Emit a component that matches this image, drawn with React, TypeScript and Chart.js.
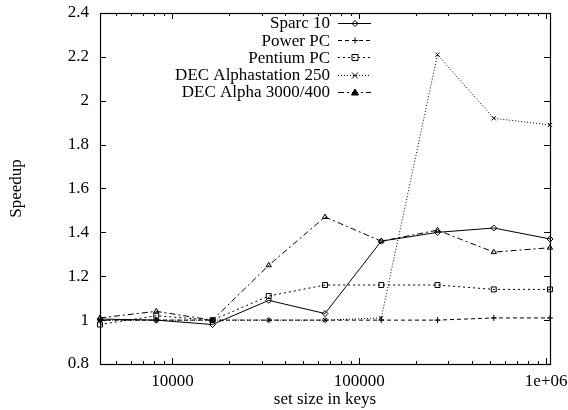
import React, { useEffect, useRef } from "react";
import { Chart, registerables } from "chart.js";

Chart.register(...registerables);

const xValues = [4096, 8192, 16384, 32768, 65536, 131072, 262144, 524288, 1048576];
const sparc10 = [1.005, 1.0, 0.98, 1.09, 1.03, 1.36, 1.4, 1.42, 1.37];
const powerPC = [1.0, 1.0, 1.0, 1.0, 1.0, 1.0, 1.0, 1.01, 1.01];
const pentiumPC = [0.98, 1.02, 1.0, 1.11, 1.16, 1.16, 1.16, 1.14, 1.14];
const alphastation250 = [1.0, 1.0, 1.0, 1.0, 1.0, 1.01, 2.21, 1.92, 1.89];
const alpha3000 = [1.01, 1.04, 1.0, 1.25, 1.47, 1.36, 1.41, 1.31, 1.33];

const seriesNames = ["Sparc 10", "Power PC", "Pentium PC", "DEC Alphastation 250", "DEC Alpha 3000/400"];
const yTicks = [0.8, 1.0, 1.2, 1.4, 1.6, 1.8, 2.0, 2.2, 2.4];
const xMajorTicks = [10000, 100000, 1000000];
const xTickLabels = ["10000", "100000", "1e+06"];

const FONT = "'Liberation Serif', 'Times New Roman', serif";
const FS = 17;

type Style = { dash: number[]; point: string; color: string; legendFill: boolean };
const styles: Style[] = [
  { dash: [], point: "diamond", color: "#000", legendFill: false },
  { dash: [4, 3], point: "plus", color: "#000", legendFill: false },
  { dash: [2, 3], point: "square", color: "#000", legendFill: false },
  { dash: [1, 2], point: "x", color: "#000", legendFill: false },
  { dash: [6, 3, 2, 3], point: "triangle", color: "#000", legendFill: true },
];

function drawMarker(ctx: CanvasRenderingContext2D, kind: string, x: number, y: number, fill: boolean) {
  ctx.save();
  ctx.setLineDash([]);
  ctx.lineWidth = 1;
  ctx.strokeStyle = "#000";
  ctx.fillStyle = "#000";
  ctx.beginPath();
  const r = 3;
  if (kind === "diamond") {
    ctx.moveTo(x, y - r); ctx.lineTo(x + r, y); ctx.lineTo(x, y + r); ctx.lineTo(x - r, y); ctx.closePath();
  } else if (kind === "plus") {
    ctx.moveTo(x - r, y); ctx.lineTo(x + r, y); ctx.moveTo(x, y - r); ctx.lineTo(x, y + r);
  } else if (kind === "square") {
    ctx.rect(x - r, y - r, 2 * r, 2 * r);
  } else if (kind === "x") {
    ctx.moveTo(x - r, y - r); ctx.lineTo(x + r, y + r); ctx.moveTo(x + r, y - r); ctx.lineTo(x - r, y + r);
  } else if (kind === "triangle") {
    ctx.moveTo(x, y - r - 0.5); ctx.lineTo(x + r + 0.5, y + r - 0.5); ctx.lineTo(x - r - 0.5, y + r - 0.5); ctx.closePath();
  }
  if (fill) ctx.fill();
  ctx.stroke();
  ctx.restore();
}

const pointStyleMap: Record<string, any> = {
  diamond: "rectRot",
  plus: "cross",
  square: "rect",
  x: "crossRot",
  triangle: "triangle",
};

const framePlugin = {
  id: "frame",
  afterDraw(chart: any) {
    const { ctx, chartArea } = chart;
    const xs = chart.scales.x;
    const ys = chart.scales.y;
    const { left, right, top, bottom } = chartArea;
    ctx.save();
    ctx.strokeStyle = "#000";
    ctx.setLineDash([]);
    ctx.lineWidth = 1.2;
    ctx.strokeRect(Math.round(left) + 0.5, Math.round(top) + 0.5, Math.round(right - left), Math.round(bottom - top));
    ctx.lineWidth = 1;
    ctx.beginPath();
    for (const v of yTicks) {
      const py = Math.round(ys.getPixelForValue(v)) + 0.5;
      ctx.moveTo(left, py); ctx.lineTo(left + 6, py);
      ctx.moveTo(right, py); ctx.lineTo(right - 6, py);
    }
    for (let d = 1000; d <= 1000000; d *= 10) {
      for (let k = 1; k <= 9; k++) {
        const v = d * k;
        if (v < xs.min || v > xs.max) continue;
        const px = Math.round(xs.getPixelForValue(v)) + 0.5;
        const len = k === 1 ? 6 : 3;
        ctx.moveTo(px, bottom); ctx.lineTo(px, bottom - len);
        ctx.moveTo(px, top); ctx.lineTo(px, top + len);
      }
    }
    ctx.stroke();

    // legend
    ctx.font = `${FS}px ${FONT}`;
    ctx.fillStyle = "#000";
    ctx.textAlign = "right";
    ctx.textBaseline = "middle";
    chart.data.datasets.forEach((ds: any, i: number) => {
      const st = styles[i];
      const y = 23 + 17.2 * i;
      ctx.fillText(ds.label, 330, y + 1);
      ctx.beginPath();
      ctx.setLineDash(st.dash);
      ctx.lineWidth = 1;
      ctx.moveTo(338, Math.round(y) + 0.5);
      ctx.lineTo(371, Math.round(y) + 0.5);
      ctx.stroke();
      drawMarker(ctx, st.point, 355, Math.round(y) + 0.5, st.legendFill);
    });
    ctx.restore();
  },
};

export default function App() {
  const ref = useRef<HTMLCanvasElement | null>(null);
  useEffect(() => {
    document.body.style.margin = "0";
    const seriesData = [sparc10, powerPC, pentiumPC, alphastation250, alpha3000];
    const chart = new Chart(ref.current!, {
      type: "line",
      data: {
        datasets: seriesData.map((vals, i) => ({
          label: seriesNames[i],
          data: vals.map((v, j) => ({ x: xValues[j], y: v })),
          borderColor: styles[i].color,
          backgroundColor: "rgba(0,0,0,0)",
          borderWidth: 1,
          borderDash: styles[i].dash,
          pointStyle: pointStyleMap[styles[i].point],
          pointRadius: styles[i].point === "square" ? 3.5 : 3,
          pointBorderColor: "#000",
          pointBackgroundColor: "rgba(0,0,0,0)",
          pointBorderWidth: 1,
          tension: 0,
          clip: false as any,
        })),
      },
      options: {
        animation: false,
        responsive: false,
        maintainAspectRatio: false,
        layout: { padding: { top: 13, right: 18, left: 0, bottom: 0 } },
        plugins: { legend: { display: false }, tooltip: { enabled: false } },
        scales: {
          x: {
            type: "logarithmic",
            min: 4096,
            max: 1048576,
            grid: { display: false, drawTicks: false },
            border: { display: false },
            afterBuildTicks: (scale: any) => {
              scale.ticks = xMajorTicks.map((v) => ({ value: v }));
            },
            afterFit: (scale: any) => {
              scale.height = 46;
              scale.paddingLeft = 0;
              scale.paddingRight = 0;
            },
            ticks: {
              autoSkip: false,
              maxRotation: 0,
              padding: 7,
              color: "#000",
              font: { family: FONT, size: FS },
              callback: (value: any) => {
                const idx = xMajorTicks.indexOf(Number(value));
                return idx >= 0 ? xTickLabels[idx] : "";
              },
            },
            title: {
              display: true,
              text: "set size in keys",
              color: "#000",
              font: { family: FONT, size: FS },
              padding: { top: 0, bottom: 0 },
            },
          },
          y: {
            type: "linear",
            min: 0.8,
            max: 2.4,
            grid: { display: false, drawTicks: false },
            border: { display: false },
            afterBuildTicks: (scale: any) => {
              scale.ticks = yTicks.map((v) => ({ value: v }));
            },
            afterFit: (scale: any) => {
              scale.width = 100;
              scale.paddingTop = 0;
              scale.paddingBottom = 0;
            },
            ticks: {
              padding: 11,
              color: "#000",
              font: { family: FONT, size: FS },
              callback: (value: any) => String(Math.round(Number(value) * 10) / 10),
            },
            title: {
              display: true,
              text: "Speedup",
              color: "#000",
              font: { family: FONT, size: FS },
              padding: { top: 6, bottom: 0 },
            },
          },
        },
      },
      plugins: [framePlugin],
    });
    return () => chart.destroy();
  }, []);
  return (
    <div style={{ position: "fixed", left: 0, top: 0, width: 568, height: 410, background: "#fff" }}>
      <canvas ref={ref} width={568} height={410} style={{ display: "block" }} />
    </div>
  );
}
